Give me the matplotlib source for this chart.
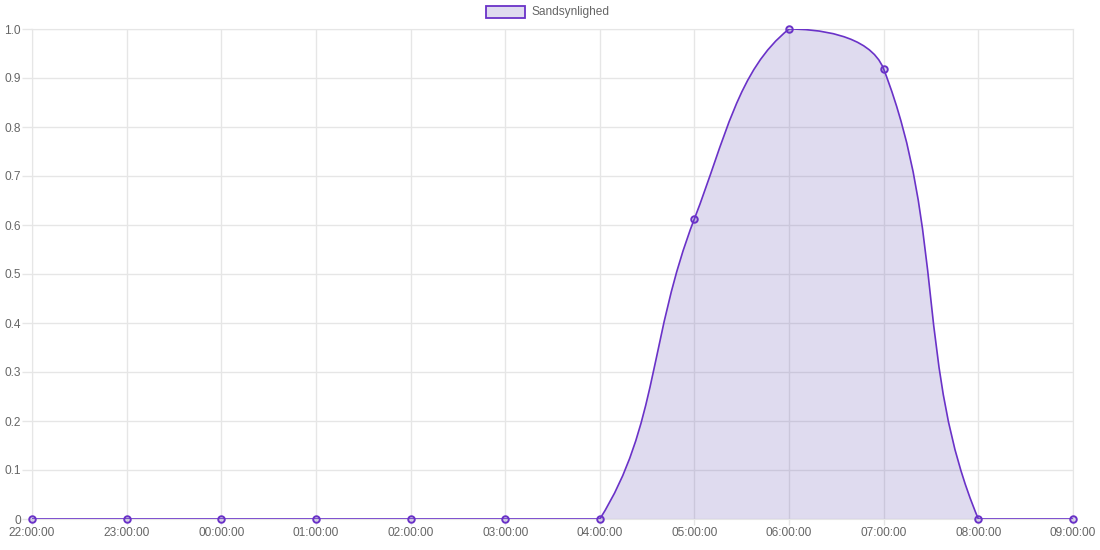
import matplotlib
matplotlib.use("Agg")
import matplotlib.pyplot as plt
from matplotlib.path import Path
from matplotlib.patches import PathPatch, Rectangle
import numpy as np

labels = ["22:00:00", "23:00:00", "00:00:00", "01:00:00", "02:00:00", "03:00:00",
          "04:00:00", "05:00:00", "06:00:00", "07:00:00", "08:00:00", "09:00:00"]
values = [0, 0, 0, 0, 0, 0, 0, 0.613, 1.0, 0.918, 0, 0]
ytick_vals = [0, 0.1, 0.2, 0.3, 0.4, 0.5, 0.6, 0.7, 0.8, 0.9, 1.0]
ytick_labels = ["0", "0.1", "0.2", "0.3", "0.4", "0.5", "0.6", "0.7", "0.8", "0.9", "1.0"]
series_name = "Sandsynlighed"

line_col = "#6a32c8"
fill_col = (95/255, 75/255, 175/255, 0.2)
grid_col = "#e6e6e6"
text_col = "#666666"
plt.rcParams['font.family'] = ['Liberation Sans', 'DejaVu Sans']

W, H = 1100, 550
fig = plt.figure(figsize=(W/100, H/100), dpi=100)
L, R, T, B = 32, 1073, 29, 519
ax = fig.add_axes([L/W, 1 - B/H, (R-L)/W, (B-T)/H])
n = len(values)
ax.set_xlim(0, n-1)
ax.set_ylim(0, 1.0)

# Chart.js style spline (tension 0.4) in pixel space
xs = np.arange(n, dtype=float)
ys = np.array(values, dtype=float)
sx = (R-L)/(n-1)
sy = (B-T)/1.0
px = xs*sx
py = -ys*sy
t = 0.4
cp_prev, cp_next = [], []
def cap(x, y):
    x = min(max(x, 0), px[-1])
    y = min(max(y, -sy), 0)
    return (x/sx, -y/sy)
for i in range(n):
    p0 = (px[max(i-1, 0)], py[max(i-1, 0)])
    p1 = (px[i], py[i])
    p2 = (px[min(i+1, n-1)], py[min(i+1, n-1)])
    d01 = np.hypot(p1[0]-p0[0], p1[1]-p0[1])
    d12 = np.hypot(p2[0]-p1[0], p2[1]-p1[1])
    s = d01 + d12
    s01 = d01/s if s else 0
    s12 = d12/s if s else 0
    fa, fb = t*s01, t*s12
    cp_prev.append(cap(p1[0] - fa*(p2[0]-p0[0]), p1[1] - fa*(p2[1]-p0[1])))
    cp_next.append(cap(p1[0] + fb*(p2[0]-p0[0]), p1[1] + fb*(p2[1]-p0[1])))

verts = [(xs[0], ys[0])]
codes = [Path.MOVETO]
for i in range(n-1):
    verts += [cp_next[i], cp_prev[i+1], (xs[i+1], ys[i+1])]
    codes += [Path.CURVE4]*3
line_path = Path(verts, codes)
fill_verts = verts + [(xs[-1], 0), (xs[0], 0), (xs[0], ys[0])]
fill_codes = codes + [Path.LINETO, Path.LINETO, Path.CLOSEPOLY]
ax.add_patch(PathPatch(Path(fill_verts, fill_codes), facecolor=fill_col, edgecolor='none', zorder=2))
ax.add_patch(PathPatch(line_path, facecolor='none', edgecolor=line_col, lw=1.2, zorder=3))
ax.scatter(xs, ys, s=22, facecolor=fill_col, edgecolor=line_col, linewidth=1.4, zorder=4, clip_on=False)

ax.set_xticks(xs)
ax.set_xticklabels(labels)
ax.set_yticks(ytick_vals)
ax.set_yticklabels(ytick_labels)
ax.grid(True, color=grid_col, lw=1, zorder=0)
ax.set_axisbelow(True)
for sp in ax.spines.values():
    sp.set_color(grid_col)
ax.tick_params(axis='y', length=7, width=1, color=grid_col, labelcolor=text_col, labelsize=8.6, pad=1)
ax.tick_params(axis='x', length=4, width=1, color=grid_col, labelcolor=text_col, labelsize=8.6, pad=2)

# legend
fig.patches.append(Rectangle((486/W, 1 - 18/H), 39/W, 12/H, transform=fig.transFigure,
                             facecolor=fill_col, edgecolor=line_col, lw=1.3))
fig.text(532/W, 1 - 12/H, series_name, color=text_col, fontsize=8.6, va='center', ha='left')

fig.savefig("out.png", dpi=100)
